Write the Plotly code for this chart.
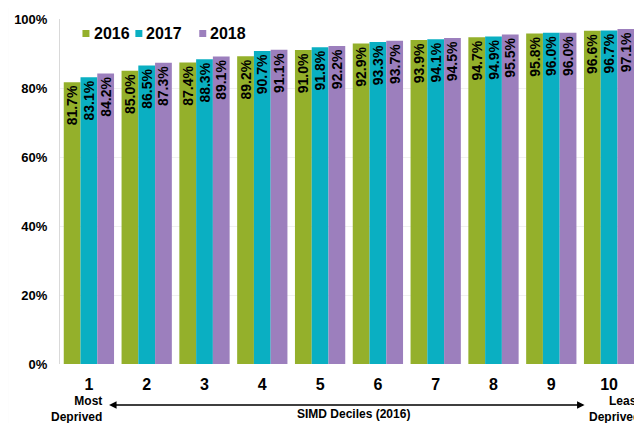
import plotly.graph_objects as go

deciles = ["1", "2", "3", "4", "5", "6", "7", "8", "9", "10"]
years = ["2016", "2017", "2018"]
v2016 = [81.7, 85.0, 87.4, 89.2, 91.0, 92.9, 93.9, 94.7, 95.8, 96.6]
v2017 = [83.1, 86.5, 88.3, 90.7, 91.8, 93.3, 94.1, 94.9, 96.0, 96.7]
v2018 = [84.2, 87.3, 89.1, 91.1, 92.2, 93.7, 94.5, 95.5, 96.0, 97.1]
colors = ["#94B02B", "#0AAFC2", "#9C7FBD"]
ytick_vals = [0, 20, 40, 60, 80, 100]
ytick_text = ["<b>%d%%</b>" % v for v in ytick_vals]

FONT = "Liberation Sans, Arial, sans-serif"

fig = go.Figure()
for name, vals, col in zip(years, [v2016, v2017, v2018], colors):
    fig.add_trace(go.Bar(
        x=deciles, y=vals, name=name, showlegend=False,
        marker=dict(color=col, line=dict(width=0)),
        text=["<b>%.1f%%</b>" % v for v in vals],
        textposition="inside", insidetextanchor="end", textangle=-90,
        textfont=dict(family=FONT, size=14, color="black"),
        constraintext="none", cliponaxis=False,
    ))

# page body has an 8px margin; coordinates below are in the window's pixels
OFF = 8
W, H = 642 - OFF, 423 - OFF
L, R, T, B = 59.5 - OFF, 3.5, 19 - OFF, 59
pw = W - L - R
ph = H - T - B

def px(x):
    return (x - OFF - L) / pw

def py(y):
    return (H - B - (y - OFF)) / ph

fig.update_layout(
    width=W, height=H,
    margin=dict(l=L, r=R, t=T, b=B, pad=0),
    paper_bgcolor="white", plot_bgcolor="white",
    barmode="group", bargap=0.13, bargroupgap=0,
    font=dict(family=FONT, color="black"),
    showlegend=False,
    xaxis=dict(type="category", range=[-0.5, 9.5], showgrid=False, zeroline=False,
               showline=False, ticks="", tickfont=dict(family=FONT, size=16, color="black"),
               tickvals=deciles, ticktext=["<b>%s</b>" % d for d in deciles],
               ticklabelstandoff=9),
    yaxis=dict(range=[0, 100], tickvals=ytick_vals, ticktext=ytick_text,
               tickfont=dict(family=FONT, size=13, color="black"),
               showgrid=True, gridcolor="#F0F0F0", gridwidth=1, zeroline=False,
               showline=True, linecolor="#D9D9D9", linewidth=1, ticks="",
               ticklabelstandoff=9),
)

# chart-area border
fig.add_shape(type="rect", xref="paper", yref="paper",
              x0=px(7), x1=px(700), y0=py(700), y1=py(7),
              line=dict(color="#DDDDDD", width=1), layer="below")

# legend (square swatch + bold label)
leg_sq_x = [82, 135, 199]
leg_txt_x = [92, 144, 208]
for yr, col, sx, tx in zip(years, colors, leg_sq_x, leg_txt_x):
    fig.add_shape(type="rect", xref="paper", yref="paper",
                  x0=px(sx), x1=px(sx + 7), y0=py(37), y1=py(30),
                  fillcolor=col, line=dict(width=0))
    fig.add_annotation(xref="paper", yref="paper", x=px(tx), y=py(33.5),
                       xanchor="left", yanchor="middle", text="<b>%s</b>" % yr,
                       showarrow=False, font=dict(family=FONT, size=16, color="black"))

ann_font = dict(family=FONT, size=12, color="black")
fig.add_annotation(xref="paper", yref="paper", x=px(104), y=py(392), xanchor="right", yanchor="top",
                   text="<b>Most<br>Deprived</b>", showarrow=False, align="right", font=ann_font)
fig.add_annotation(xref="paper", yref="paper", x=px(643), y=py(392), xanchor="right", yanchor="top",
                   text="<b>Least<br>Deprived</b>", showarrow=False, align="right", font=ann_font)
fig.add_annotation(xref="paper", yref="paper", x=px(354), y=py(405), xanchor="center", yanchor="top",
                   text="<b>SIMD Deciles (2016)</b>", showarrow=False, font=ann_font)
fig.add_annotation(xref="paper", yref="paper", x=px(585), y=py(405), ax=-(585 - 108), ay=0,
                   axref="pixel", ayref="pixel", text="", showarrow=True,
                   arrowhead=2, arrowside="end+start", arrowsize=1, arrowwidth=1.5,
                   arrowcolor="black")

fig.write_html("out.html")
